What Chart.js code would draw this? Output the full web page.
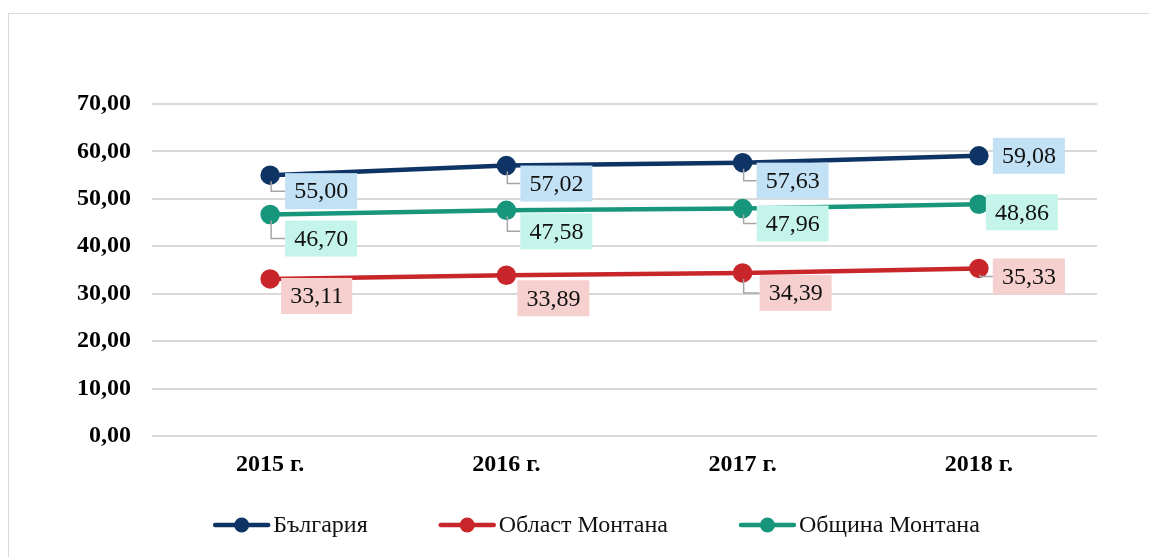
<!DOCTYPE html>
<html>
<head>
<meta charset="utf-8">
<script src="https://cdn.jsdelivr.net/npm/chart.js@4/dist/chart.umd.min.js"></script>
<style>
  html, body { margin: 0; padding: 0; background: #fff; }
  #wrap { width: 1149px; height: 557px; position: relative; }
</style>
</head>
<body>
<div id="wrap"><canvas id="c" width="1149" height="557"></canvas></div>
<script>
// ---- data ----
const categories = ['2015 г.', '2016 г.', '2017 г.', '2018 г.'];
const bulgaria = [55.00, 57.02, 57.63, 59.08];
const oblastMontana = [33.11, 33.89, 34.39, 35.33];
const obshtinaMontana = [46.70, 47.58, 47.96, 48.86];
const seriesNames = ['България', 'Област Монтана', 'Община Монтана'];
const yTicks = [0, 10, 20, 30, 40, 50, 60, 70];

// ---- styles ----
const FONT = '"Liberation Serif", "Times New Roman", serif';
const lineColors = ['#0d3464', '#c8262a', '#17967c'];
const labelBg = ['#c3e1f5', '#f6cfcf', '#c4f4ea'];
// label box placement relative to point (box left, box top)
const labelOffsets = [
  [[15, -2], [14, 0], [14, 0], [14, -18]],
  [[11, -1], [11, 5], [17, 2], [14, -10]],
  [[15, 6], [14, 3], [14, -3], [7, -10]]
];
const labelLeader = [
  [true, true, true, false],
  [false, false, true, true],
  [true, true, true, false]
];

const fmt = v => v.toFixed(2).replace('.', ',');

const framePlugin = {
  id: 'frame',
  beforeDraw(chart) {
    const ctx = chart.ctx;
    ctx.save();
    ctx.strokeStyle = '#d9d9d9';
    ctx.lineWidth = 1;
    ctx.strokeRect(8.5, 13.5, 1200, 600);
    ctx.restore();
  }
};

const labelPlugin = {
  id: 'boxLabels',
  afterDatasetsDraw(chart) {
    const ctx = chart.ctx;
    ctx.save();
    ctx.font = '24px ' + FONT;
    chart.data.datasets.forEach((ds, i) => {
      const meta = chart.getDatasetMeta(i);
      meta.data.forEach((pt, j) => {
        const txt = fmt(ds.data[j]);
        const w = ctx.measureText(txt).width + 18;
        const h = 36;
        const [dx, dy] = labelOffsets[i][j];
        const bx = pt.x + dx, by = pt.y + dy;
        if (labelLeader[i][j]) {
          ctx.strokeStyle = '#a6a6a6';
          ctx.lineWidth = 1.5;
          ctx.beginPath();
          ctx.moveTo(pt.x + 1, pt.y + 6);
          ctx.lineTo(pt.x + 1, by + h / 2);
          ctx.lineTo(bx, by + h / 2);
          ctx.stroke();
        }
        ctx.fillStyle = labelBg[i];
        ctx.fillRect(bx, by, w, h);
        ctx.fillStyle = '#111';
        ctx.textAlign = 'center';
        ctx.textBaseline = 'middle';
        ctx.fillText(txt, bx + w / 2, by + h / 2 + 1);
      });
    });
    ctx.restore();
  }
};

const legendPlugin = {
  id: 'customLegend',
  afterDraw(chart) {
    const ctx = chart.ctx;
    ctx.save();
    ctx.font = '24px ' + FONT;
    const markerW = 57, gapText = 3, gapItem = 71;
    const items = chart.data.datasets.map(ds => ({
      label: ds.label, color: ds.borderColor, tw: ctx.measureText(ds.label).width
    }));
    let total = 0;
    items.forEach((it, k) => { total += markerW + gapText + it.tw + (k ? gapItem : 0); });
    const ca = chart.chartArea;
    let x = (ca.left + ca.right) / 2 - 28 - total / 2;
    const y = 525;
    items.forEach(it => {
      ctx.strokeStyle = it.color;
      ctx.lineWidth = 4.5;
      ctx.lineCap = 'round';
      ctx.beginPath();
      ctx.moveTo(x + 2, y);
      ctx.lineTo(x + markerW - 2, y);
      ctx.stroke();
      ctx.fillStyle = it.color;
      ctx.beginPath();
      ctx.arc(x + markerW / 2, y, 7.5, 0, Math.PI * 2);
      ctx.fill();
      ctx.fillStyle = '#111';
      ctx.textAlign = 'left';
      ctx.textBaseline = 'middle';
      ctx.fillText(it.label, x + markerW + gapText, y + 1);
      x += markerW + gapText + it.tw + gapItem;
    });
    ctx.restore();
  }
};

const seriesData = [bulgaria, oblastMontana, obshtinaMontana];

new Chart(document.getElementById('c'), {
  type: 'line',
  data: {
    labels: categories,
    datasets: seriesData.map((d, i) => ({
      label: seriesNames[i],
      data: d,
      borderColor: lineColors[i],
      backgroundColor: lineColors[i],
      pointBackgroundColor: lineColors[i],
      pointBorderColor: lineColors[i],
      borderWidth: 4.5,
      pointRadius: 7.5,
      pointHoverRadius: 7.5,
      tension: 0,
      fill: false
    }))
  },
  options: {
    responsive: false,
    animation: false,
    devicePixelRatio: 1,
    layout: { padding: { left: 0, right: 52, top: 104, bottom: 76 } },
    plugins: {
      legend: { display: false },
      tooltip: { enabled: false }
    },
    scales: {
      x: {
        offset: true,
        grid: { display: false, drawTicks: false },
        border: { display: false },
        ticks: {
          padding: 14,
          color: '#000',
          font: { family: FONT, size: 24, weight: 'bold' }
        },
        afterFit(scale) { scale.height = 45; }
      },
      y: {
        min: 0,
        max: 70,
        afterBuildTicks(scale) { scale.ticks = yTicks.map(v => ({ value: v })); },
        grid: { color: '#d9d9d9', lineWidth: 2, drawTicks: false },
        border: { display: false },
        ticks: {
          padding: 21,
          color: '#000',
          font: { family: FONT, size: 24, weight: 'bold' },
          callback: v => fmt(v)
        },
        afterFit(scale) { scale.width = 152; }
      }
    }
  },
  plugins: [framePlugin, labelPlugin, legendPlugin]
});
</script>
</body>
</html>
